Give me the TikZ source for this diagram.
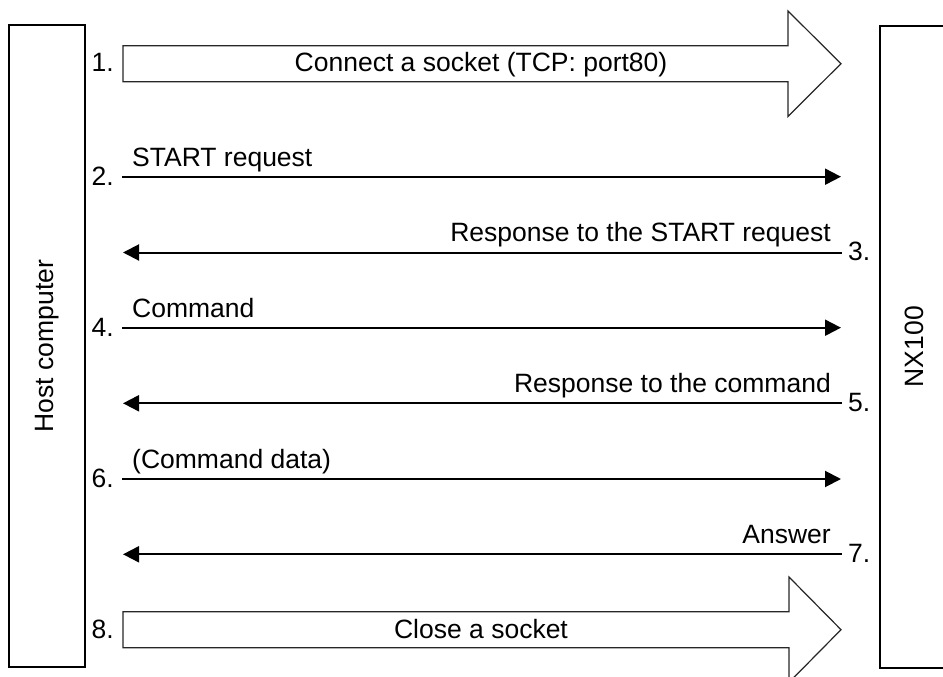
\documentclass[tikz,border=0pt]{standalone}
\usepackage{fontspec}
\setmainfont{Liberation Sans}
\usetikzlibrary{arrows.meta}
\begin{document}
\begin{tikzpicture}[x=1pt,y=-1pt,
  box/.style={draw, line width=2pt, inner sep=0pt},
  msg/.style={line width=2pt, -{Triangle[length=16pt,width=16pt]}},
  bigarrow/.style={draw=black!85, line width=1.2pt, fill=white},
  lbl/.style={inner sep=0pt, font=\fontsize{26.5}{30}\selectfont},
]
\useasboundingbox (0,0) rectangle (943,677);
\clip (0,0) rectangle (943,677);
% participants
\node[box, minimum width=76pt, minimum height=642pt] (host) at (47,346) {};
\node[box, anchor=north west, minimum width=100pt, minimum height=642pt] (nx) at (879,25) {};
\node[lbl, rotate=90] (hostlbl) at (host.center) {Host computer};
\node[lbl, rotate=90] (nxlbl) at (914,346.7) {NX100};
% 1. connect
\draw[bigarrow] (123,45.7) -- (788,45.7) -- (788,11) -- (841,63.7) -- (788,116.4) -- (788,81.7) -- (123,81.7) -- cycle;
\node[lbl, anchor=base] (a1) at (481,71.5) {Connect a socket (TCP: port80)};
\node[lbl, anchor=base east] (n1) at (114,71.5) {1.};
% messages
\coordinate (L2) at (122,176.7); \coordinate (R2) at (841,176.7);
\coordinate (L3) at (123,252.5); \coordinate (R3) at (842,252.5);
\coordinate (L4) at (122,327.7); \coordinate (R4) at (841,327.7);
\coordinate (L5) at (123,403.3); \coordinate (R5) at (842,403.3);
\coordinate (L6) at (122,479);   \coordinate (R6) at (841,479);
\coordinate (L7) at (123,554.3); \coordinate (R7) at (842,554.3);
\draw[msg] (L2) -- (R2);
\draw[msg] (R3) -- (L3);
\draw[msg] (L4) -- (R4);
\draw[msg] (R5) -- (L5);
\draw[msg] (L6) -- (R6);
\draw[msg] (R7) -- (L7);
\node[lbl, anchor=base west] (m2) at (132,166) {START request};
\node[lbl, anchor=base east] (m3) at (831,241.8) {Response to the START request};
\node[lbl, anchor=base west] (m4) at (132,317) {Command};
\node[lbl, anchor=base east] (m5) at (831,392.6) {Response to the command};
\node[lbl, anchor=base west] (m6) at (132,468.3) {(Command data)};
\node[lbl, anchor=base east] (m7) at (831,543.6) {Answer};
\node[lbl, anchor=base east] (n2) at (114,185.2) {2.};
\node[lbl, anchor=base west] (n3) at (848,260.5) {3.};
\node[lbl, anchor=base east] (n4) at (114,336.2) {4.};
\node[lbl, anchor=base west] (n5) at (848,411.3) {5.};
\node[lbl, anchor=base east] (n6) at (114,487.5) {6.};
\node[lbl, anchor=base west] (n7) at (848,562.3) {7.};
% 8. close
\draw[bigarrow] (123,611.7) -- (789,611.7) -- (789,577) -- (841,629.7) -- (789,682.4) -- (789,647.7) -- (123,647.7) -- cycle;
\node[lbl, anchor=base] (a8) at (481,638) {Close a socket};
\node[lbl, anchor=base east] (n8) at (114,638) {8.};
\end{tikzpicture}
\end{document}
